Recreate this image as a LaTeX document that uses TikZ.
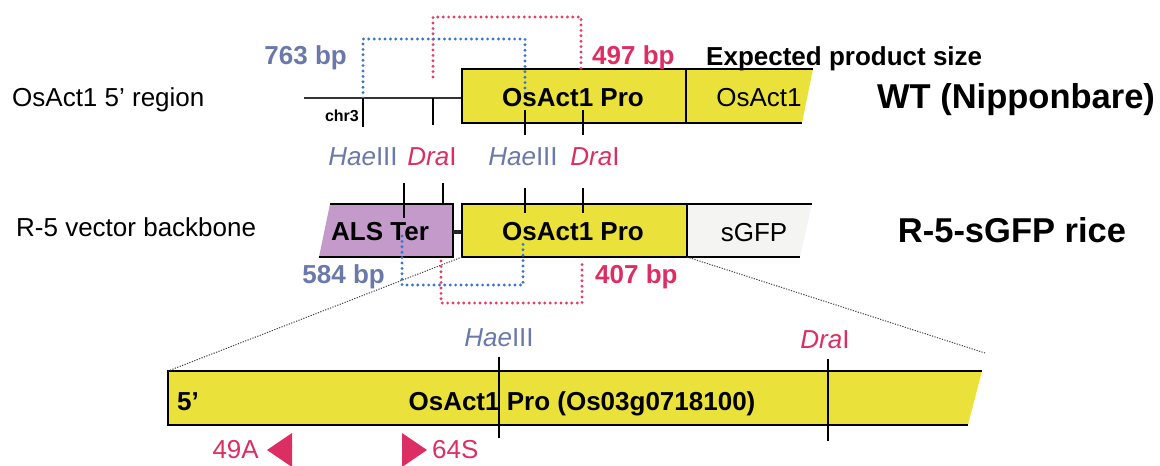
\documentclass[tikz,border=0pt]{standalone}
\usepackage{fontspec}
\setmainfont{Liberation Sans}
\definecolor{ylw}{HTML}{EAE23A}
\definecolor{prp}{HTML}{C39ACA}
\definecolor{bluetxt}{HTML}{6A78AA}
\definecolor{bluedot}{HTML}{3A74CC}
\definecolor{redtxt}{HTML}{DC2E62}
\definecolor{reddot}{HTML}{E63C68}
\definecolor{gfpfill}{HTML}{F4F4F2}
\tikzset{
  lbl/.style={inner sep=0pt, anchor=base, font=\fontsize{26}{30}\selectfont},
  blbl/.style={inner sep=0pt, anchor=base, font=\fontsize{26}{30}\selectfont\bfseries},
  biglbl/.style={inner sep=0pt, anchor=base, font=\fontsize{34.5}{40}\selectfont\bfseries},
  edge/.style={black, line width=1.4pt},
  tickline/.style={black, line width=1.6pt},
  chrline/.style={black!80, line width=1.4pt},
  bdots/.style={bluedot, line width=3.2pt, line cap=round, dash pattern=on 0pt off 5.4pt},
  rdots/.style={reddot, line width=3.2pt, line cap=round, dash pattern=on 0pt off 5.4pt},
  zoomline/.style={black!75, line width=1pt, dash pattern=on 1.2pt off 1.4pt},
}
\begin{document}
\begin{tikzpicture}[x=1pt,y=-1pt]
\useasboundingbox (0,0) rectangle (1160,466);

% ---------------- coordinates ----------------
% row 1
\coordinate (chrL) at (304,98); \coordinate (chrR) at (462,98);
\coordinate (p1tl) at (462,69); \coordinate (p1br) at (686,123);
\coordinate (a1tl) at (686,69); \coordinate (a1tr) at (813,69);
\coordinate (a1br) at (802,123); \coordinate (a1bl) at (686,123);
\coordinate (k1a) at (363,98);  \coordinate (k1ae) at (363,127);
\coordinate (k1b) at (433,98);  \coordinate (k1be) at (433,125);
\coordinate (k1c) at (525,110); \coordinate (k1ce) at (525,135);
\coordinate (k1d) at (583,110); \coordinate (k1de) at (583,135);
\coordinate (b1s) at (363,98);  \coordinate (b1u) at (363,39);
\coordinate (b1v) at (525,39);  \coordinate (b1e) at (525,97);
\coordinate (r1s) at (433,77);  \coordinate (r1u) at (433,17);
\coordinate (r1v) at (581,17);  \coordinate (r1e) at (581,72);
% row 2
\coordinate (alsTL) at (330,204); \coordinate (alsTR) at (453,204);
\coordinate (alsBR) at (453,257); \coordinate (alsBL) at (319,257);
\coordinate (lnkL) at (453,232); \coordinate (lnkR) at (462,232);
\coordinate (p2tl) at (462,204); \coordinate (p2br) at (687,257);
\coordinate (p2bl) at (462,257);
\coordinate (g2tl) at (687,204); \coordinate (g2tr) at (812,204);
\coordinate (g2br) at (800,257); \coordinate (g2bl) at (687,257);
\coordinate (k2a) at (404,183); \coordinate (k2ae) at (404,218);
\coordinate (k2b) at (443,183); \coordinate (k2be) at (443,204);
\coordinate (k2c) at (525,188); \coordinate (k2ce) at (525,213);
\coordinate (k2d) at (583,188); \coordinate (k2de) at (583,213);
\coordinate (b2s) at (402,236); \coordinate (b2u) at (402,285);
\coordinate (b2v) at (523,285); \coordinate (b2e) at (523,241);
\coordinate (r2s) at (441,261); \coordinate (r2u) at (441,303);
\coordinate (r2v) at (582,303); \coordinate (r2e) at (582,261);
% bottom
\coordinate (ztl) at (168,371); \coordinate (ztr) at (982,371);
\coordinate (zbr) at (968,425); \coordinate (zbl) at (168,425);
\coordinate (zR) at (985,353);
\coordinate (k3a) at (499,357); \coordinate (k3ae) at (499,438);
\coordinate (k3b) at (828,359); \coordinate (k3be) at (828,441);

% ---------------- fills ----------------
\fill[ylw] (p1tl) rectangle (p1br);
\fill[ylw] (a1tl) -- (a1tr) -- (a1br) -- (a1bl) -- cycle;
\fill[prp] (alsTL) -- (alsTR) -- (alsBR) -- (alsBL) -- cycle;
\fill[ylw] (p2tl) rectangle (p2br);
\fill[gfpfill] (g2tl) -- (g2tr) -- (g2br) -- (g2bl) -- cycle;
\fill[ylw] (ztl) -- (ztr) -- (zbr) -- (zbl) -- cycle;

% ---------------- outlines ----------------
\draw[chrline] (chrL) -- (chrR);
\draw[edge] (p1tl) rectangle (p1br);
\draw[edge] (a1tl) -- (a1tr);
\draw[edge] (a1bl) -- (a1br);
\draw[edge] (alsTL) -- (alsTR) -- (alsBR) -- (alsBL);
\draw[black!85, line width=4.5pt] (lnkL) -- (lnkR);
\draw[edge] (p2tl) rectangle (p2br);
\draw[edge] (g2tl) -- (g2tr);
\draw[edge] (g2bl) -- (g2br);
\draw[edge] (ztr) -- (ztl) -- (zbl) -- (zbr);

% zoom lines
\draw[zoomline] (p2bl) -- (ztl);
\draw[zoomline] (g2bl) -- (zR);

% ---------------- PCR brackets ----------------
\draw[rdots] (r1s) -- (r1u) -- (r1v) -- (r1e);
\draw[bdots] (b1s) -- (b1u) -- (b1v) -- (b1e);
\draw[bdots] (b2s) -- (b2u) -- (b2v) -- (b2e);
\draw[rdots] (r2s) -- (r2u) -- (r2v) -- (r2e);

% ---------------- texts ----------------
\node[lbl] (reg1) at (12,106.5) [anchor=base west] {OsAct1 5’ region};
\node[lbl] (reg2) at (16,236.5) [anchor=base west] {R-5 vector backbone};
\node[blbl, text=bluetxt, anchor=base east] (bp763) at (347,64) {763 bp};
\node[blbl, text=redtxt, anchor=base west] (bp497) at (592,64) {497 bp};
\node[blbl, anchor=base west] (exp) at (706,65) {Expected product size};
\node[biglbl] (wt) at (1016,108) {WT (Nipponbare)};
\node[biglbl] (r5) at (1012,242) {R-5-sGFP rice};
\node[blbl] (pro1t) at (573,106) {OsAct1 Pro};
\node[lbl] (act1t) at (759,106) {OsAct1};
\node[inner sep=0pt, anchor=base east, font=\fontsize{16}{18}\selectfont\bfseries] (chr) at (359,121) {chr3};
\node[lbl, text=bluetxt] (h1) at (363,165) {\textit{Hae}III};
\node[lbl, text=redtxt] (d1) at (432,165) {\textit{Dra}I};
\node[lbl, text=bluetxt] (h2) at (523,165) {\textit{Hae}III};
\node[lbl, text=redtxt] (d2) at (595,165) {\textit{Dra}I};
\node[blbl] (alst) at (380,240) {ALS Ter};
\node[blbl] (pro2t) at (573,240) {OsAct1 Pro};
\node[lbl] (gfpt) at (754,241) {sGFP};
\node[blbl, text=bluetxt, anchor=base east] (bp584) at (385,283) {584 bp};
\node[blbl, text=redtxt, anchor=base west] (bp407) at (595,283) {407 bp};
\node[lbl, text=bluetxt] (h3) at (499,346) {\textit{Hae}III};
\node[lbl, text=redtxt] (d3) at (825,348) {\textit{Dra}I};
\node[blbl, anchor=base west] (five) at (177,410) {5’};
\node[blbl] (prot) at (582,410) {OsAct1 Pro (Os03g0718100)};
\node[lbl, text=redtxt, anchor=base east] (p49) at (259,458) {49A};
\node[lbl, text=redtxt, anchor=base west] (p64) at (432,458) {64S};

% primers
\fill[redtxt] (267,450) -- (292,433) -- (292,467) -- cycle;
\fill[redtxt] (427,450) -- (402,433) -- (402,467) -- cycle;

% ---------------- ticks ----------------
\draw[tickline] (k1a) -- (k1ae);
\draw[tickline] (k1b) -- (k1be);
\draw[tickline] (k1c) -- (k1ce);
\draw[tickline] (k1d) -- (k1de);
\draw[tickline] (k2a) -- (k2ae);
\draw[tickline] (k2b) -- (k2be);
\draw[tickline] (k2c) -- (k2ce);
\draw[tickline] (k2d) -- (k2de);
\draw[tickline] (k3a) -- (k3ae);
\draw[tickline] (k3b) -- (k3be);
\end{tikzpicture}
\end{document}
